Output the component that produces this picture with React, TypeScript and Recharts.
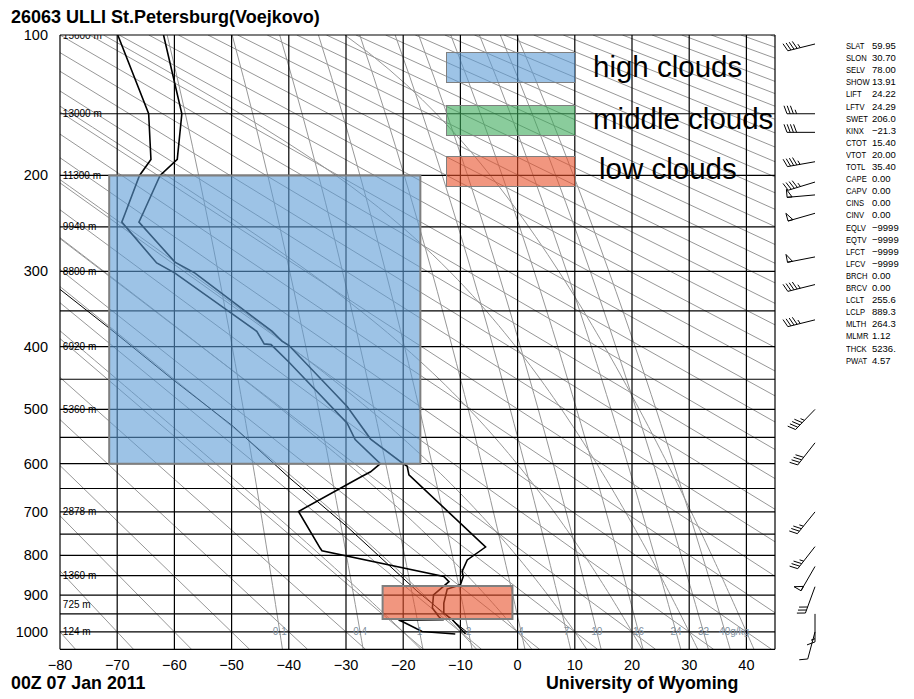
import { ReferenceArea, ReferenceLine, Scatter, ScatterChart, XAxis, YAxis } from 'recharts'

const WIDTH = 914
const HEIGHT = 699
const FONT = '"Liberation Sans", Arial, Helvetica, sans-serif'

// Stüve diagram: x = temperature (°C), y = p^kappa
const KAPPA = 0.286
const py = (p: number) => Math.pow(p, KAPPA)
const yp = (y: number) => Math.pow(y, 1 / KAPPA)

const P_TOP = 100
const P_BOTTOM = 1050
const T_LEFT = -80
const T_RIGHT = 45

const TEMP_TICKS = [-80, -70, -60, -50, -40, -30, -20, -10, 0, 10, 20, 30, 40]
const PRESSURE_TICKS = [100, 200, 300, 400, 500, 600, 700, 800, 900, 1000]
const ISOBARS = [150, 200, 250, 300, 350, 400, 450, 500, 550, 600, 650, 700, 750, 800, 850, 900, 950, 1000]

const HEIGHT_P = [100, 150, 200, 250, 300, 400, 500, 700, 850, 925, 1000]
const HEIGHT_TXT = ['15600 m', '13000 m', '11300 m', '9940 m', '8800 m', '6920 m', '5360 m', '2878 m', '1360 m', '725 m', '124 m']

// dry adiabats, named by temperature at 1000 hPa (°C)
const DRY_ADIABATS = [
  -80, -70, -60, -50, -40, -30, -20, -10, 0, 10, 20, 30, 40, 50, 60, 70, 80, 90, 100, 110, 120, 130,
  140, 150, 160, 170, 180, 190, 200, 210, 220, 230, 240, 250, 260, 270, 280, 290, 300, 310, 320, 330, 340,
]
// saturated adiabats, named by wet-bulb potential temperature (°C)
const MOIST_ADIABATS = [-20, -10, 0, 10, 20, 30, 40]
// mixing ratio lines (g/kg)
const MIXING_RATIOS = [0.1, 0.4, 1, 2, 4, 7, 10, 16, 24, 32, 40]
const MIXING_LABELS = ['0.1', '0.4', '1', '2', '4', '7', '10', '16', '24', '32', '40g/kg']

// sounding, 00Z 07 Jan 2011
const TEMP_P = [100, 150, 186, 200, 235, 245, 289, 302, 378, 392, 398, 495, 553, 596, 605, 622, 780, 811, 839, 852, 873, 884, 921, 948, 966, 1006]
const TEMP_T = [-61.9, -58.7, -59.5, -62.5, -65.4, -66.2, -59.9, -56.4, -42.9, -41.2, -40.0, -29.8, -25.7, -20.5, -19.3, -19.0, -5.6, -8.8, -9.7, -9.5, -10.0, -12.3, -12.9, -12.9, -11.4, -9.1]
const DEW_P = [100, 150, 186, 200, 236, 245, 290, 302, 349, 378, 396, 397, 423, 524, 554, 600, 616, 627, 699, 783, 789, 852, 865, 899, 934, 957, 966, 967, 973, 999, 1006]
const DEW_T = [-69.9, -64.5, -64.1, -66.1, -68.6, -69.2, -63.1, -59.9, -50.8, -45.6, -44.3, -43.1, -40.0, -29.8, -28.4, -24.0, -25.7, -27.5, -38.3, -34.5, -34.2, -12.9, -12.0, -14.7, -14.9, -13.8, -13.2, -20.8, -19.9, -16.7, -10.9]
const PARCEL_P = [322, 374, 451, 530, 629, 733, 889, 1000]
const PARCEL_T = [-80, -71.3, -60.2, -49.7, -39.8, -29.8, -17.6, -8.9]

// cloud layers [T left, T right], [p top, p bottom]
const HIGH_CLOUD_T = [-71.4, -17.0]
const HIGH_CLOUD_P = [200, 600]
const LOW_CLOUD_T = [-23.6, -0.9]
const LOW_CLOUD_P = [876, 964]

// winds
const WIND_P = [105, 150, 164, 188, 206, 218, 236, 283, 316, 362, 500, 560, 700, 779, 827, 878, 950, 1000]
const WIND_DIR = [256, 270, 270, 260, 253, 265, 254, 259, 256, 256, 224, 218, 219, 218, 210, 200, 180, 195]
const WIND_KT = [45, 35, 40, 45, 45, 50, 50, 50, 45, 45, 45, 40, 35, 35, 50, 30, 15, 10]

const INDEX_NAMES = ['SLAT', 'SLON', 'SELV', 'SHOW', 'LIFT', 'LFTV', 'SWET', 'KINX', 'CTOT', 'VTOT', 'TOTL', 'CAPE', 'CAPV', 'CINS', 'CINV', 'EQLV', 'EQTV', 'LFCT', 'LFCV', 'BRCH', 'BRCV', 'LCLT', 'LCLP', 'MLTH', 'MLMR', 'THCK', 'PWAT']
const INDEX_VALUES = ['59.95', '30.70', '78.00', '13.91', '24.22', '24.29', '206.0', '\u221221.3', '15.40', '20.00', '35.40', '0.00', '0.00', '0.00', '0.00', '\u22129999', '\u22129999', '\u22129999', '\u22129999', '0.00', '0.00', '255.6', '889.3', '264.3', '1.12', '5236.', '4.57']

type Pt = { t: number; y: number }

// thermodynamics for the background lines
const RD = 287.04
const CP = 1005.7
const LV = 2.501e6
const EPS = 0.622
const esat = (tc: number) => 6.112 * Math.exp((17.67 * tc) / (tc + 243.5))
const dewFromVapour = (e: number) => {
  const l = Math.log(e / 6.112)
  return (243.5 * l) / (17.67 - l)
}
const lapse = (p: number, T: number) => {
  const e = esat(T - 273.15)
  const rs = (EPS * e) / (p - e)
  return (RD * T + LV * rs) / (p * (CP + (LV * LV * rs * EPS) / (RD * T * T)))
}

const dryLine = (t1000: number): Pt[] =>
  [P_BOTTOM, P_TOP].map((p) => ({ t: (t1000 + 273.15) * Math.pow(p / 1000, KAPPA) - 273.15, y: py(p) }))

const mixingTd = (w: number, p: number) => dewFromVapour((w * p) / (622 + w))
const mixingLine = (w: number): Pt[] => {
  const pts: Pt[] = []
  for (let p = P_BOTTOM; p >= P_TOP; p -= 25) pts.push({ t: mixingTd(w, p), y: py(p) })
  return pts
}

const rk = (p: number, T: number, h: number) => {
  const k1 = lapse(p, T)
  const k2 = lapse(p + h / 2, T + (h / 2) * k1)
  const k3 = lapse(p + h / 2, T + (h / 2) * k2)
  const k4 = lapse(p + h, T + h * k3)
  return T + (h / 6) * (k1 + 2 * k2 + 2 * k3 + k4)
}
const moistLine = (tw: number): Pt[] => {
  const down: Pt[] = []
  let T = tw + 273.15
  for (let p = 1000; p < P_BOTTOM; p += 10) {
    T = rk(p, T, 10)
    down.unshift({ t: T - 273.15, y: py(p + 10) })
  }
  const up: Pt[] = []
  T = tw + 273.15
  for (let p = 1000; p >= P_TOP; p -= 10) {
    up.push({ t: T - 273.15, y: py(p) })
    T = rk(p, T, -10)
  }
  return [...down, ...up]
}

const zip = (ps: number[], ts: number[]): Pt[] => ps.map((p, i) => ({ t: ts[i], y: py(p) }))

const tempData = zip(TEMP_P, TEMP_T)
const dewData = zip(DEW_P, DEW_T)
const parcelData = zip(PARCEL_P, PARCEL_T)
const heightData = HEIGHT_P.map((p, i) => ({ t: -79.5, y: py(p), label: HEIGHT_TXT[i] }))
const mixLabelData = MIXING_RATIOS.map((w, i) => ({ t: mixingTd(w, 1000), y: py(1000), label: MIXING_LABELS[i], last: i === MIXING_RATIOS.length - 1 }))
const windData = WIND_P.map((p, i) => ({ x: 0.5, y: py(p), dir: WIND_DIR[i], spd: WIND_KT[i] }))

const GRAY = '#979797'
const NoDot = () => <g />

const fmtT = (v: number) => (v < 0 ? `\u2212${Math.abs(v)}` : `${v}`)

const XTick = ({ x, y, payload }: any) => (
  <text x={x} y={y + 20.2} textAnchor="middle" fontSize={14.5} fontFamily={FONT} fill="#000">
    {fmtT(payload.value)}
  </text>
)
const YTick = ({ x, y, payload }: any) => (
  <text x={x} y={y + 5} textAnchor="end" fontSize={14.5} fontFamily={FONT} fill="#000">
    {Math.round(yp(payload.value))}
  </text>
)

const HeightLabel = (props: any) => (
  <text x={props.cx} y={props.cy + 3.5} fontSize={10} fontFamily={FONT} fill="#000">
    {props.payload.label}
  </text>
)
const MixLabel = (props: any) => (
  <text
    x={props.payload.last ? props.cx - 6 : props.cx}
    y={props.cy + 3.5}
    textAnchor={props.payload.last ? 'start' : 'middle'}
    fontSize={10}
    fontFamily={FONT}
    fill="#8090a0"
  >
    {props.payload.label}
  </text>
)

// wind barb: staff points toward where the wind comes from
const Barb = (props: any) => {
  const { cx, cy, payload } = props
  const d = (payload.dir * Math.PI) / 180
  const ux = Math.sin(d)
  const uy = -Math.cos(d)
  const nx = -uy
  const ny = ux
  const L = 28
  const parts: JSX.Element[] = []
  parts.push(<line key="s" x1={cx} y1={cy} x2={cx + ux * L} y2={cy + uy * L} />)
  let spd = payload.spd
  let pos = L
  let k = 0
  while (spd >= 50) {
    const ax = cx + ux * pos
    const ay = cy + uy * pos
    const bx = cx + ux * (pos - 5)
    const by = cy + uy * (pos - 5)
    parts.push(
      <polygon key={`p${k++}`} points={`${ax},${ay} ${bx},${by} ${ax + nx * 8},${ay + ny * 8}`} fill="none" />,
    )
    pos -= 7
    spd -= 50
  }
  while (spd >= 10) {
    const ax = cx + ux * pos
    const ay = cy + uy * pos
    parts.push(<line key={`f${k++}`} x1={ax} y1={ay} x2={ax + nx * 8 + ux * 3} y2={ay + ny * 8 + uy * 3} />)
    pos -= 3.2
    spd -= 10
  }
  if (spd >= 5) {
    const ax = cx + ux * pos
    const ay = cy + uy * pos
    parts.push(<line key={`h${k++}`} x1={ax} y1={ay} x2={ax + nx * 4 + ux * 1.5} y2={ay + ny * 4 + uy * 1.5} />)
  }
  return (
    <g stroke="#000" strokeWidth={1}>
      {parts}
    </g>
  )
}

export default function App() {
  const yDomain = [py(P_TOP), py(P_BOTTOM)]
  return (
    <div style={{ position: 'absolute', left: 0, top: 0, width: WIDTH, height: HEIGHT, background: '#fff', fontFamily: FONT }}>
      <ScatterChart width={WIDTH} height={HEIGHT} margin={{ top: 35, right: 139, bottom: 19.7, left: 0 }}>
        <XAxis
          type="number"
          dataKey="t"
          domain={[T_LEFT, T_RIGHT]}
          ticks={TEMP_TICKS}
          interval={0}
          allowDataOverflow
          height={30}
          tickSize={0}
          tickMargin={0}
          axisLine={false}
          tick={(p: any) => <XTick {...p} />}
        />
        <YAxis
          type="number"
          dataKey="y"
          domain={yDomain}
          reversed
          ticks={PRESSURE_TICKS.map(py)}
          interval={0}
          allowDataOverflow
          width={60}
          tickSize={0}
          tickMargin={12}
          axisLine={false}
          tick={(p: any) => <YTick {...p} />}
        />

        {DRY_ADIABATS.map((t) => (
          <Scatter key={`d${t}`} data={dryLine(t)} line={{ stroke: GRAY, strokeWidth: 1 }} shape={NoDot} isAnimationActive={false} zIndex={100} />
        ))}
        {MOIST_ADIABATS.map((t) => (
          <Scatter key={`m${t}`} data={moistLine(t)} line={{ stroke: GRAY, strokeWidth: 1 }} shape={NoDot} isAnimationActive={false} zIndex={100} />
        ))}
        {MIXING_RATIOS.map((w) => (
          <Scatter key={`w${w}`} data={mixingLine(w)} line={{ stroke: GRAY, strokeWidth: 1 }} shape={NoDot} isAnimationActive={false} zIndex={100} />
        ))}

        {TEMP_TICKS.map((t) => (
          <ReferenceLine key={`it${t}`} x={t} stroke="#000" strokeWidth={1.2} zIndex={200} />
        ))}
        {ISOBARS.map((p) => (
          <ReferenceLine key={`ip${p}`} y={py(p)} stroke="#000" strokeWidth={1.2} zIndex={200} />
        ))}
        <ReferenceLine x={T_RIGHT} stroke="#000" strokeWidth={1.2} zIndex={200} />
        <ReferenceLine y={py(P_TOP)} stroke="#000" strokeWidth={1.2} zIndex={200} />
        <ReferenceLine y={py(P_BOTTOM)} stroke="#000" strokeWidth={1.2} zIndex={200} />

        <Scatter data={parcelData} line={{ stroke: '#000', strokeWidth: 1 }} shape={NoDot} isAnimationActive={false} zIndex={300} />
        <Scatter data={dewData} line={{ stroke: '#000', strokeWidth: 1.6 }} shape={NoDot} isAnimationActive={false} zIndex={300} />
        <Scatter data={tempData} line={{ stroke: '#000', strokeWidth: 1.6 }} shape={NoDot} isAnimationActive={false} zIndex={300} />

        <ReferenceArea
          x1={HIGH_CLOUD_T[0]}
          x2={HIGH_CLOUD_T[1]}
          y1={py(HIGH_CLOUD_P[0])}
          y2={py(HIGH_CLOUD_P[1])}
          fill="#5B9BD5"
          fillOpacity={0.6}
          stroke="#7f7f7f"
          strokeWidth={2}
          zIndex={400}
        />
        <ReferenceArea
          x1={LOW_CLOUD_T[0]}
          x2={LOW_CLOUD_T[1]}
          y1={py(LOW_CLOUD_P[0])}
          y2={py(LOW_CLOUD_P[1])}
          fill="#E8502A"
          fillOpacity={0.6}
          stroke="#7f7f7f"
          strokeWidth={2}
          zIndex={400}
        />

        <Scatter data={heightData} shape={HeightLabel} isAnimationActive={false} zIndex={500} />
        <Scatter data={mixLabelData} shape={MixLabel} isAnimationActive={false} zIndex={500} />
      </ScatterChart>

      <div style={{ position: 'absolute', left: 780, top: 0 }}>
        <ScatterChart width={70} height={HEIGHT} margin={{ top: 35, right: 0, bottom: 49.7, left: 0 }}>
          <XAxis type="number" dataKey="x" domain={[0, 1]} hide />
          <YAxis type="number" dataKey="y" domain={yDomain} reversed hide />
          <Scatter data={windData} shape={Barb} isAnimationActive={false} />
        </ScatterChart>
      </div>

      {/* legend */}
      {[
        { top: 52, color: 'rgba(91,155,213,0.6)', text: 'high clouds', tx: 593, base: 77 },
        { top: 105, color: 'rgba(60,170,90,0.6)', text: 'middle clouds', tx: 593, base: 129 },
        { top: 156, color: 'rgba(232,80,42,0.6)', text: 'low clouds', tx: 599, base: 179 },
      ].map((l) => (
        <div key={l.text}>
          <div
            style={{
              position: 'absolute',
              left: 446,
              top: l.top,
              width: 128,
              height: 29,
              background: l.color,
              border: '1.5px solid #7f7f7f',
            }}
          />
          <div style={{ position: 'absolute', left: l.tx, top: l.base - 27, fontSize: 29.5, lineHeight: '33px', whiteSpace: 'nowrap', color: '#000' }}>
            {l.text}
          </div>
        </div>
      ))}

      {/* station indices */}
      {INDEX_NAMES.map((n, i) => (
        <div key={n} style={{ position: 'absolute', left: 846, top: 40 + i * 12.1, fontSize: 9.5, lineHeight: '12px', whiteSpace: 'nowrap' }}>
          <span style={{ position: 'absolute', left: 0, display: 'inline-block', transform: 'scaleX(0.8)', transformOrigin: 'left center' }}>{n}</span>
          <span style={{ position: 'absolute', left: 26 }}>{INDEX_VALUES[i]}</span>
        </div>
      ))}

      <div style={{ position: 'absolute', left: 11, top: 7, fontSize: 18, lineHeight: '20px', fontWeight: 'bold', whiteSpace: 'nowrap' }}>
        26063 ULLI St.Petersburg(Voejkovo)
      </div>
      <div style={{ position: 'absolute', left: 11, top: 676, fontSize: 17.8, lineHeight: '14px', fontWeight: 'bold', whiteSpace: 'nowrap' }}>
        00Z 07 Jan 2011
      </div>
      <div style={{ position: 'absolute', left: 546, top: 676, fontSize: 17.8, lineHeight: '14px', fontWeight: 'bold', whiteSpace: 'nowrap' }}>
        University of Wyoming
      </div>
    </div>
  )
}
